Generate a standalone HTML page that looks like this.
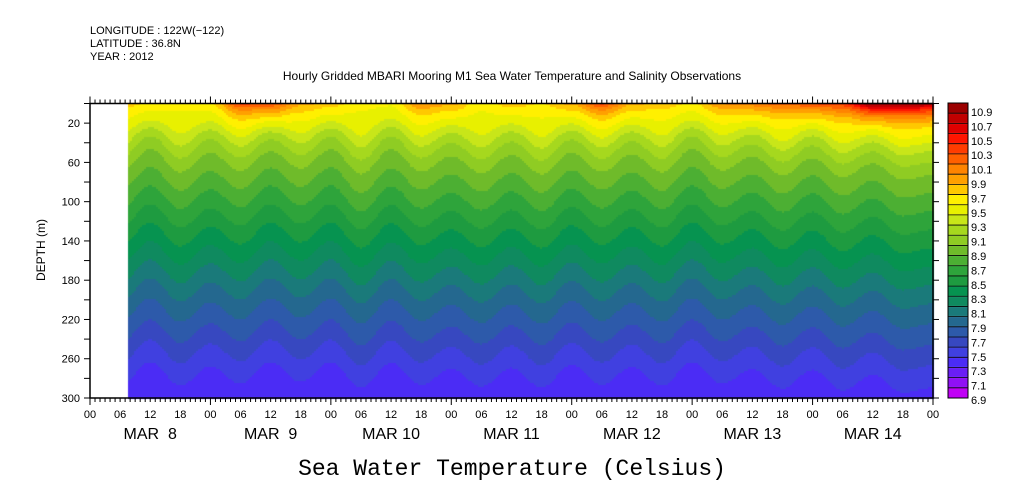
<!DOCTYPE html>
<html><head><meta charset="utf-8"><style>
body{margin:0;background:#fff;}
#wrap{position:relative;width:1009px;height:504px;overflow:hidden;background:#fff;font-family:"Liberation Sans",sans-serif;}
svg text{font-family:"Liberation Sans",sans-serif;}
</style></head><body>
<div id="wrap">
<canvas id="cv" width="1009" height="504" style="position:absolute;left:0;top:0"></canvas>
<svg id="sv" width="1009" height="504" style="position:absolute;left:0;top:0">
<text x="90" y="34" font-size="11">LONGITUDE : 122W(−122)</text>
<text x="90" y="47" font-size="11">LATITUDE : 36.8N</text>
<text x="90" y="60" font-size="11">YEAR : 2012</text>
<text x="512" y="80" font-size="12" text-anchor="middle">Hourly Gridded MBARI Mooring M1 Sea Water Temperature and Salinity Observations</text>
<text x="512" y="475" font-size="23" text-anchor="middle" font-family="Liberation Mono" style="font-family:'Liberation Mono',monospace">Sea Water Temperature (Celsius)</text>
<text transform="translate(45,250) rotate(-90)" font-size="12" text-anchor="middle">DEPTH (m)</text>
<g id="axes"></g>
</svg>
</div>
<script>
// ---- data ----
const hours = [6,12,18,24,30,36,42,48,54,60,66,72,78,84,90,96,102,108,114,120,126,132,138,144,150,156,162,168];
const displacement = [10,-14,10,-10,8,-14,6,-14,12,-13,9,-7,11,-8,12,-11,9,-9,10,-14,8,-7,13,-6,15,-1,17,12];
const surfaceAnomaly = [0.2,0.1,0.0,0.1,0.7,0.7,0.3,0.2,0.0,0.0,0.4,0.3,0.0,0.2,0.1,0.3,0.7,0.3,0.2,0.1,0.4,0.5,0.6,0.7,0.8,1.4,1.4,1.3];
const profileDepths = [0,20,40,60,80,100,120,140,160,180,200,220,240,260,280,300];
const profileTemps = [9.65,9.5,9.25,9.05,8.9,8.75,8.6,8.45,8.3,8.15,8.0,7.87,7.74,7.6,7.48,7.36];
const depthTicks = [20,60,100,140,180,220,260,300];
const hourTickLabels = ["00","06","12","18"];
const dayLabels = ["MAR\u00a0\u00a08","MAR\u00a0\u00a09","MAR\u00a010","MAR\u00a011","MAR\u00a012","MAR\u00a013","MAR\u00a014"];
const cbarLabels = ["10.9","10.7","10.5","10.3","10.1","9.9","9.7","9.5","9.3","9.1","8.9","8.7","8.5","8.3","8.1","7.9","7.7","7.5","7.3","7.1","6.9"];
const cbarColors = ["#9b0000","#c00000","#e00000","#ff1500","#ff3c00","#ff6000","#ff8400","#ffa000","#ffc800","#fff000","#e8f000","#c8e619","#a6d81e","#8fcc23","#6fbb2a","#4caf33","#2ea43b","#1e9b40","#069350","#0f8a5f","#1a7a7a","#24688f","#2d5aaa","#3748c0","#4040e0","#4b2cf5","#6a1ef5","#9010f5","#c000f5"];
// ---- axes ----
const X0=90,X1=933,Y0=103.5,Y1=398;
const xS=h=>X0+(X1-X0)*h/168;
const yS=d=>Y0+(Y1-Y0)*d/300;
const TMAX=11.03,TMIN=6.93;
function colorFor(T){let i=Math.floor((TMAX-T)/((TMAX-TMIN)/cbarColors.length));i=Math.max(0,Math.min(cbarColors.length-1,i));return cbarColors[i];}
function interp(xs,ys,x){if(x<=xs[0])return ys[0];for(let i=0;i<xs.length-1;i++){if(x<=xs[i+1]){const f=(x-xs[i])/(xs[i+1]-xs[i]);const c=(1-Math.cos(f*Math.PI))/2;return ys[i]*(1-c)+ys[i+1]*c;}}return ys[ys.length-1];}
function linInterp(xs,ys,x){if(x<=xs[0])return ys[0];for(let i=0;i<xs.length-1;i++){if(x<=xs[i+1]){const f=(x-xs[i])/(xs[i+1]-xs[i]);return ys[i]*(1-f)+ys[i+1]*f;}}return ys[ys.length-1];}
function temp(h,d){const disp=interp(hours,displacement,h);const z=d-disp*Math.min(1,d/40+0.1);const s=interp(hours,surfaceAnomaly,h);return linInterp(profileDepths,profileTemps,z)+s*Math.exp(-d/14);}
const cv=document.getElementById('cv');const ctx=cv.getContext('2d');
const px0=128;
for(let px=px0;px<X1;px+=2){const h=(px+1-X0)/(X1-X0)*168;
 for(let py=Math.floor(Y0);py<Y1;py+=2){const d=(py+1-Y0)/(Y1-Y0)*300;ctx.fillStyle=colorFor(temp(h,d));ctx.fillRect(px,py,2,2);}}
// colorbar
const CX=948,CW=20,CY0=103,CY1=398,bh=(CY1-CY0)/cbarColors.length;
cbarColors.forEach((c,i)=>{ctx.fillStyle=c;ctx.fillRect(CX,CY0+i*bh,CW,bh);});
const NS='http://www.w3.org/2000/svg';const g=document.getElementById('axes');
function el(t,a,txt){const e=document.createElementNS(NS,t);for(const k in a)e.setAttribute(k,a[k]);if(txt!==undefined)e.textContent=txt;g.appendChild(e);return e;}
let e;
e=el('rect',{x:X0,y:Y0,width:X1-X0,height:Y1-Y0,fill:'none',stroke:'#000','stroke-width':1.5});


for(let h=0;h<=168;h++){const x=xS(h);const big=h%24==0;
 e=el('line',{x1:x,x2:x,y1:Y0,y2:Y0-(big?7:4),stroke:'#000','stroke-width':1});
 
 
 e=el('line',{x1:x,x2:x,y1:Y1,y2:Y1+(big?7:4),stroke:'#000','stroke-width':1});
 
 
 if(h%6==0){e=el('text',{x:x,y:418,'font-size':11,'text-anchor':'middle'},hourTickLabels[(h/6)%4]);
 
 }}
dayLabels.forEach((l,i)=>{e=el('text',{x:xS(i*24+12),y:439,'font-size':16,'text-anchor':'middle'},l);
 
 });
for(let d=0;d<=300;d+=20){const y=yS(d);
 e=el('line',{x1:X0-6,x2:X0,y1:y,y2:y,stroke:'#000'});
 
 
 e=el('line',{x1:X1,x2:X1+6,y1:y,y2:y,stroke:'#000'});
 
 }
depthTicks.forEach(d=>{e=el('text',{x:X0-10,y:yS(d)+4,'font-size':11,'text-anchor':'end'},String(d));
 
 });
for(let i=0;i<=cbarColors.length;i++){e=el('line',{x1:CX,x2:CX+CW,y1:CY0+i*bh,y2:CY0+i*bh,stroke:'#000','stroke-width':0.8});
 
 }
e=el('rect',{x:CX,y:CY0,width:CW,height:CY1-CY0,fill:'none',stroke:'#000'});


cbarLabels.forEach((l,i)=>{const v=parseFloat(l);const y=112+(10.9-v)*72;
 e=el('text',{x:CX+CW+3,y:y+4,'font-size':11},l);
 
 });
</script>
</body></html>
